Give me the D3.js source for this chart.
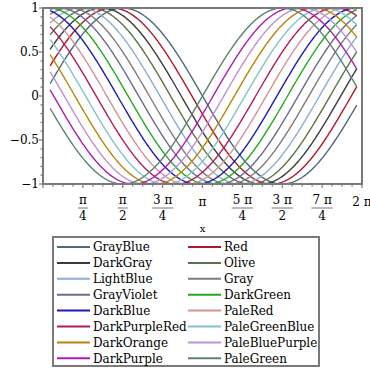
<!DOCTYPE html>
<html>
<head>
<meta charset="utf-8">
<script src="https://cdn.jsdelivr.net/npm/d3@7"></script>
<style>
  body { margin: 0; background: #fff; }
  text { font-family: "DejaVu Serif", serif; fill: #000; }
</style>
</head>
<body>
<div id="chart"></div>
<script>
// series in plotting order; phase is in units of pi/15
const seriesNames = ["GrayBlue", "Red", "DarkGray", "Olive", "LightBlue", "Gray",
  "GrayViolet", "DarkGreen", "DarkBlue", "PaleRed", "DarkPurpleRed", "PaleGreenBlue",
  "DarkOrange", "PaleBluePurple", "DarkPurple", "PaleGreen"];
const seriesColors = ["#4d6a7f", "#b0182a", "#3c3c3c", "#5d7346", "#8caed0", "#7c7c7c",
  "#6c6c8c", "#22aa22", "#1c1cb0", "#d09494", "#b21a5c", "#84c2ca",
  "#b8860b", "#c090d2", "#b01cb0", "#5c8274"];
const phases = [0, 1, 2, 3, 4, 5, 6, 7, 8, 9, 10, 11, 12, 13, 14, 15];
const xStart = 0.14, xEnd = 6.18;

const yTicks = [-1, -0.5, 0, 0.5, 1];
const yTickLabels = ["\u22121", "\u22120.5", "0", "0.5", "1"];
const xTickNum = [1, 2, 3, 4, 5, 6, 7, 8]; // multiples of pi/4
const xTickLabels = [["\u03c0", "4"], ["\u03c0", "2"], ["3 \u03c0", "4"], ["\u03c0", null],
  ["5 \u03c0", "4"], ["3 \u03c0", "2"], ["7 \u03c0", "4"], ["2 \u03c0", null]];

const W = 370, H = 370;
const svg = d3.select("#chart").append("svg").attr("width", W).attr("height", H);

const x = d3.scaleLinear().domain([0, 2 * Math.PI]).range([43, 362]);
const y = d3.scaleLinear().domain([-1, 1]).range([184, 8]);

// curves
const line = d3.line().x(d => x(d[0])).y(d => y(d[1]));
const xs = d3.range(xStart, xEnd, 0.02).concat([xEnd]);
svg.append("g").selectAll("path")
  .data(phases)
  .enter()
  .append("path")
  .attr("d", p => line(xs.map(t => [t, Math.sin(t + p * Math.PI / 15)])))
  .attr("fill", "none")
  .attr("stroke", (p, i) => seriesColors[i])
  .attr("stroke-width", 1.4);

// box
const axisColor = "#7a7a7a";
svg.append("rect")
  .attr("x", x(0)).attr("y", y(1))
  .attr("width", x(2 * Math.PI) - x(0)).attr("height", y(-1) - y(1))
  .attr("fill", "none").attr("stroke", axisColor).attr("stroke-width", 2);

// y ticks
const yMinor = d3.range(-10, 11).map(k => k / 10);
svg.append("g").selectAll("line").data(yMinor).enter().append("line")
  .attr("x1", x(0) - 1).attr("x2", d => x(0) - (Math.abs(d * 2 - Math.round(d * 2)) < 1e-9 ? 4 : 2.5))
  .attr("y1", d => y(d)).attr("y2", d => y(d))
  .attr("stroke", axisColor).attr("stroke-width", 1.2);
svg.append("g").selectAll("text").data(yTicks).enter().append("text")
  .attr("x", 39).attr("y", d => y(d)).attr("dy", "0.35em")
  .attr("text-anchor", "end").style("font-size", "12px")
  .text((d, i) => yTickLabels[i]);

// x ticks
const xMinor = d3.range(0, 33);
svg.append("g").selectAll("line").data(xMinor).enter().append("line")
  .attr("x1", d => x(d * Math.PI / 16)).attr("x2", d => x(d * Math.PI / 16))
  .attr("y1", y(-1) + 1).attr("y2", d => y(-1) + (d % 4 === 0 ? 4 : 2.5))
  .attr("stroke", axisColor).attr("stroke-width", 1.2);

const xl = svg.append("g").selectAll("g").data(xTickNum).enter().append("g")
  .attr("transform", d => `translate(${x(d * Math.PI / 4)},0)`);
xl.append("text")
  .attr("y", (d, i) => xTickLabels[i][1] ? 204 : 206)
  .attr("text-anchor", "middle").style("font-size", "12px")
  .text((d, i) => xTickLabels[i][0]);
xl.filter((d, i) => xTickLabels[i][1]).append("line")
  .attr("x1", function(d) { return -this.parentNode.querySelector("text").getBBox().width / 2 - 1; })
  .attr("x2", function(d) { return this.parentNode.querySelector("text").getBBox().width / 2 + 1; })
  .attr("y1", 208).attr("y2", 208)
  .attr("stroke", "#bbbbbb").attr("stroke-width", 2);
xl.filter((d, i) => xTickLabels[i][1]).append("text")
  .attr("y", 220).attr("text-anchor", "middle").style("font-size", "12px")
  .text(d => xTickLabels[xTickNum.indexOf(d)][1]);

svg.append("text").attr("x", x(Math.PI)).attr("y", 232)
  .attr("text-anchor", "middle").style("font-size", "10px").text("x");

// legend (row-major, two columns)
const legend = svg.append("g");
legend.append("rect")
  .attr("x", 53).attr("y", 237).attr("width", 266).attr("height", 129)
  .attr("fill", "#fff").attr("stroke", axisColor).attr("stroke-width", 2);
const items = legend.selectAll("g.item").data(seriesNames).enter().append("g")
  .attr("transform", (d, i) => `translate(${i % 2 === 0 ? 57 : 188},${247 + Math.floor(i / 2) * 15.9})`);
items.append("line")
  .attr("x1", 0).attr("x2", 33).attr("y1", 0).attr("y2", 0)
  .attr("stroke", (d, i) => seriesColors[i]).attr("stroke-width", 2);
items.append("text")
  .attr("x", 36).attr("y", 0).attr("dy", "0.35em").style("font-size", "12px")
  .text(d => d);
</script>
</body>
</html>
